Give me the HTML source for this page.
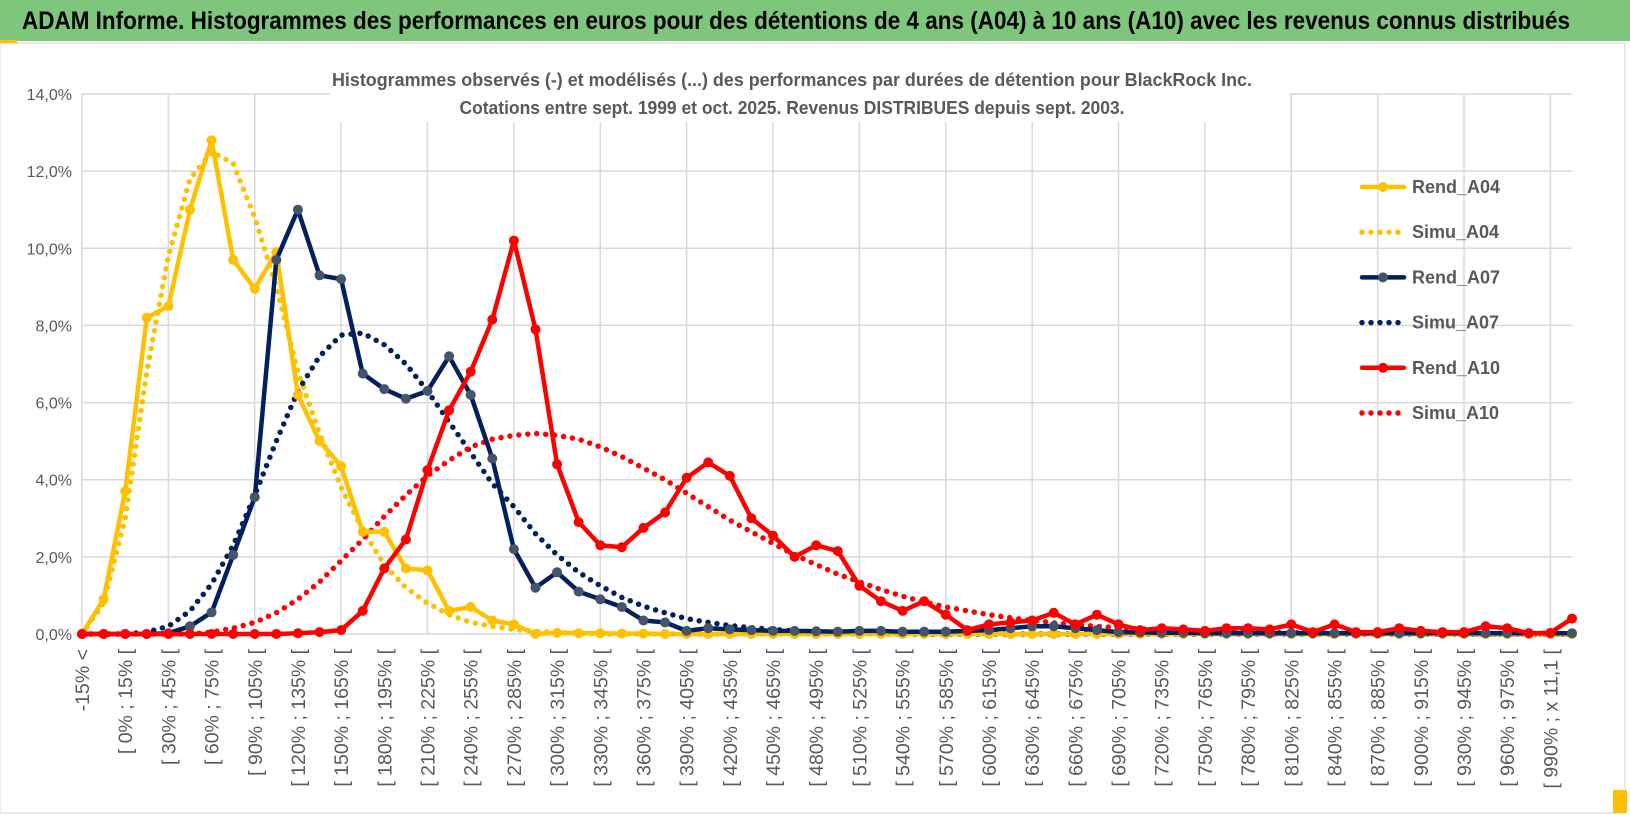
<!DOCTYPE html>
<html><head><meta charset="utf-8"><style>
html,body{margin:0;padding:0;background:#fff;}
body{width:1630px;height:815px;overflow:hidden;position:relative;font-family:"Liberation Sans",sans-serif;}
#hdr{position:absolute;left:0;top:0;width:1630px;height:41px;background:#7dc67b;}
</style></head><body>
<div id="hdr"></div>
<svg id="chart" width="1630" height="815" style="position:absolute;left:0;top:0">
<text x="22" y="29" font-size="25" font-weight="bold" fill="#000" textLength="1548" lengthAdjust="spacingAndGlyphs">ADAM Informe. Histogrammes des performances en euros pour des détentions de 4 ans (A04) à 10 ans (A10) avec les revenus connus distribués</text>
<rect x="0" y="43" width="1625" height="770" fill="#fff" stroke="#d0d0d0"/>
<rect x="0" y="40" width="17" height="3" fill="#ffc000"/>
<rect x="1613" y="790" width="14" height="23" fill="#ffc000"/>
<g id="grid"></g><g id="axes"></g><g id="series"></g>
<rect x="330" y="62" width="960" height="60" fill="#fff"/>
<text x="792" y="86" text-anchor="middle" font-size="18" font-weight="bold" fill="#595959" textLength="920" lengthAdjust="spacingAndGlyphs">Histogrammes observés (-) et modélisés (...) des performances par durées de détention pour BlackRock Inc.</text>
<text x="792" y="114" text-anchor="middle" font-size="18" font-weight="bold" fill="#595959" textLength="665" lengthAdjust="spacingAndGlyphs">Cotations entre sept. 1999 et oct. 2025. Revenus DISTRIBUES depuis sept. 2003.</text>
<g id="legend"></g>
</svg>
<script>
const rendA04=[0,0.9,3.7,8.2,8.5,11.0,12.8,9.7,8.95,9.9,6.2,5.0,4.35,2.65,2.65,1.7,1.65,0.6,0.7,0.35,0.25,0,0.03,0.02,0.02,0.01,0.01,0,0,0,0,0,0,0,0,0,0,0,0,0,0,0,0,0,0,0,0,0,0,0,0,0,0,0,0,0,0,0,0,0,0,0,0,0,0,0,0,0,0,0];
const simuA04=[0,0.8,3.0,6.8,9.8,11.8,12.5,12.2,10.8,9.0,6.8,5.2,3.8,2.7,1.8,1.2,0.8,0.5,0.3,0.2,0.12,0.07,0.04,0.02,0,0,0,0,0,0,0,0,0,0,0,0,0,0,0,0,0,0,0,0,0,0,0,0,0,0,0,0,0,0,0,0,0,0,0,0,0,0,0,0,0,0,0,0,0,0];
const rendA07=[0,0,0,0,0.02,0.2,0.56,2.05,3.55,9.7,11.0,9.3,9.2,6.75,6.35,6.1,6.3,7.2,6.2,4.55,2.2,1.2,1.6,1.1,0.9,0.7,0.35,0.3,0.08,0.15,0.12,0.1,0.08,0.08,0.07,0.06,0.08,0.08,0.06,0.06,0.06,0.08,0.1,0.15,0.2,0.2,0.15,0.1,0.05,0.04,0.03,0.03,0.02,0.02,0.02,0.02,0.02,0.02,0.02,0.02,0.02,0.02,0.02,0.02,0.02,0.02,0.02,0.02,0.02,0.02];
const simuA07=[0,0,0,0.05,0.2,0.6,1.3,2.3,3.6,5.0,6.3,7.2,7.75,7.8,7.5,7.0,6.3,5.5,4.7,3.9,3.3,2.6,2.05,1.6,1.25,0.95,0.72,0.55,0.4,0.3,0.22,0.16,0.12,0.08,0.06,0.04,0.03,0.02,0,0,0,0,0,0,0,0,0,0,0,0,0,0,0,0,0,0,0,0,0,0,0,0,0,0,0,0,0,0,0,0];
const rendA10=[0,0,0,0,0,0,0,0,0,0,0.02,0.05,0.1,0.6,1.7,2.45,4.25,5.8,6.8,8.15,10.2,7.9,4.4,2.9,2.3,2.25,2.75,3.15,4.05,4.45,4.1,3.0,2.55,2.0,2.3,2.15,1.25,0.85,0.6,0.85,0.5,0.1,0.25,0.3,0.35,0.55,0.25,0.5,0.25,0.1,0.15,0.12,0.08,0.15,0.15,0.12,0.25,0.05,0.25,0.05,0.05,0.15,0.08,0.05,0.05,0.2,0.15,0.02,0.03,0.4];
const simuA10=[0,0,0,0,0,0,0.05,0.15,0.3,0.55,0.9,1.35,1.9,2.45,3.05,3.6,4.1,4.5,4.85,5.05,5.15,5.2,5.15,5.05,4.85,4.6,4.3,4.0,3.65,3.3,2.95,2.65,2.35,2.05,1.8,1.55,1.35,1.15,0.98,0.83,0.7,0.6,0.5,0.42,0.35,0.29,0.24,0.2,0.16,0.13,0.11,0.09,0.07,0.06,0.05,0.04,0.03,0.03,0.02,0.02,0.02,0.01,0.01,0.01,0,0,0,0,0,0];
const yTicks=[0,2,4,6,8,10,12,14];
const categories=["-15% <"];
for(let k=1;k<70;k++){const a=(k-2)*15;categories.push(k===68?"[ 990% ; x 11,1 [":k===69?"x 11,1 <":"[ "+a+"% ; "+(a+15)+"% [");}

const NS="http://www.w3.org/2000/svg";
const X0=82,X1=1572,Y0=634,Y14=94;
const xs=i=>X0+i*(X1-X0)/(categories.length-1);
const ys=v=>Y0-v*(Y0-Y14)/14;
function mk(tag,attrs,parent){const e=document.createElementNS(NS,tag);for(const k in attrs)e.setAttribute(k,attrs[k]);parent.appendChild(e);return e;}
const grid=document.getElementById('grid'),axes=document.getElementById('axes'),ser=document.getElementById('series'),leg=document.getElementById('legend');
yTicks.forEach(t=>{
 const l=mk('line',{x1:X0,x2:X1,y1:ys(t),y2:ys(t),stroke:'#d9d9d9','stroke-width':1.5},grid);
 
 
 const tx=mk('text',{x:72,y:ys(t)+6,'text-anchor':'end','font-size':16,fill:'#595959'},axes);
 tx.textContent=t.toFixed(1).replace('.',',')+'%';
 
 
});
for(let i=0;i<categories.length;i+=4){
 const l=mk('line',{x1:xs(i),x2:xs(i),y1:Y14,y2:Y0,stroke:'#d9d9d9','stroke-width':1.5},grid);
 
 
}
for(let i=0;i<categories.length;i+=2){
 const x=xs(i)+7,y=649;
 const tx=mk('text',{x:x,y:y,'text-anchor':'end','font-size':19.5,fill:'#595959',transform:`rotate(-90 ${x} ${y})`},axes);
 tx.textContent=categories[i];
 
 
}
const series=[
 {name:'Rend_A04',d:rendA04,c:'#ffc000',m:'#ffc000',dot:false},
 {name:'Simu_A04',d:simuA04,c:'#ffc000',dot:true},
 {name:'Rend_A07',d:rendA07,c:'#002060',m:'#44546a',dot:false},
 {name:'Simu_A07',d:simuA07,c:'#002060',dot:true},
 {name:'Rend_A10',d:rendA10,c:'#ff0000',m:'#ff0000',dot:false},
 {name:'Simu_A10',d:simuA10,c:'#ff0000',dot:true}];
const order=[1,3,5,0,2,4];
order.forEach(si=>{
 const s=series[si];
 const g=mk('g',{},ser);
 
 
 const pts=s.d.map((v,i)=>xs(i).toFixed(1)+','+ys(v).toFixed(1)).join(' ');
 const pl=mk('polyline',{points:pts,fill:'none',stroke:s.c,'stroke-width':s.dot?5.5:4.5,'stroke-linejoin':'round','stroke-linecap':'round'},g);
 if(s.dot)pl.setAttribute('stroke-dasharray','0 9');
 
 
 if(!s.dot)s.d.forEach((v,i)=>{
  const c=mk('circle',{cx:xs(i),cy:ys(v),r:5,fill:s.m},g);
  
  
 });
});
series.forEach((s,k)=>{
 const y=187+k*45.2;
 const g=mk('g',{},leg);
 
 
 const l=mk('line',{x1:1362,x2:1404,y1:y,y2:y,stroke:s.c,'stroke-width':s.dot?5.5:4.5,'stroke-linecap':'round'},g);
 if(s.dot)l.setAttribute('stroke-dasharray','0 9');
 if(!s.dot)mk('circle',{cx:1383,cy:y,r:5,fill:s.m},g);
 const t=mk('text',{x:1412,y:y+6,'font-size':18,'font-weight':'bold',fill:'#595959'},g);
 t.textContent=s.name;
});
</script>
</body></html>
